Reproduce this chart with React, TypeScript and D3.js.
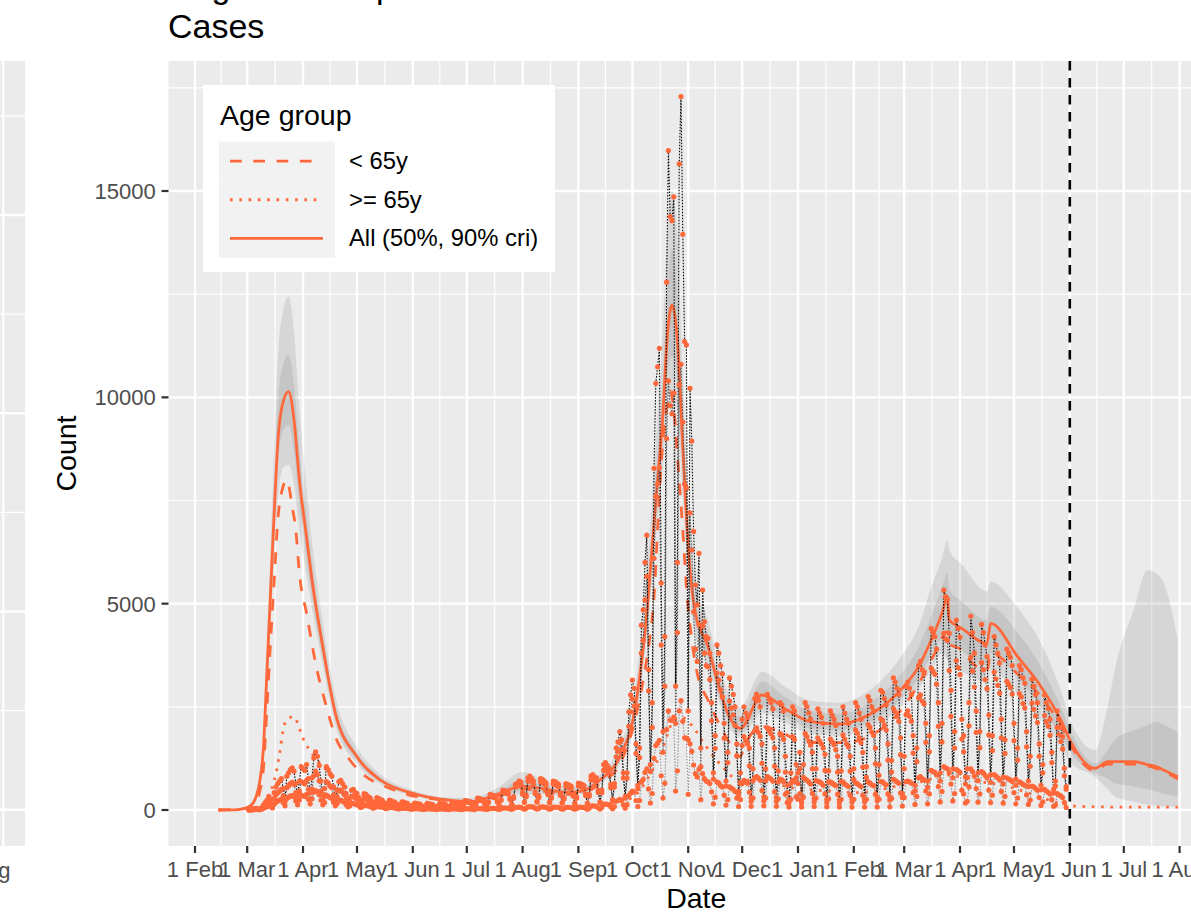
import React from "react";
import * as d3 from "d3";

const FONT = "'Liberation Sans', Arial, Helvetica, sans-serif";
const ORANGE = "#FF683A";

// ---------- model fit: All ages (median and credible intervals) ----------
const allDates = [
  "2020-02-14","2020-02-25","2020-03-01","2020-03-04","2020-03-06","2020-03-08","2020-03-10","2020-03-12","2020-03-14",
  "2020-03-16","2020-03-18","2020-03-21","2020-03-24","2020-03-27","2020-03-30","2020-04-03","2020-04-06",
  "2020-04-12","2020-04-19","2020-05-01","2020-05-14","2020-06-01","2020-06-20","2020-07-03","2020-07-18",
  "2020-08-01","2020-08-12","2020-08-25","2020-09-03","2020-09-13","2020-09-24","2020-10-02","2020-10-06",
  "2020-10-09","2020-10-12","2020-10-15","2020-10-18","2020-10-20","2020-10-23","2020-10-26","2020-10-29",
  "2020-11-01","2020-11-05","2020-11-12","2020-11-17","2020-11-23","2020-11-30","2020-12-12","2020-12-26",
  "2021-01-08","2021-01-25","2021-02-03","2021-02-14","2021-02-27","2021-03-09","2021-03-16","2021-03-22",
  "2021-03-25","2021-03-26","2021-04-02","2021-04-16","2021-04-18","2021-05-03","2021-05-16","2021-05-27",
  "2021-06-02","2021-06-15","2021-06-22","2021-06-26","2021-07-07","2021-07-14","2021-07-19","2021-07-24",
  "2021-07-31",
];
const allMedian = [
  0,10,60,150,330,700,1500,3400,5300,7200,8900,9900,10137,9450,8000,6600,5573,
  3957,2343,1292,727,404,242,201,380,580,520,430,460,727,1292,2343,3555,
  4766,6381,7997,9612,11227,12237,11389,8804,6381,4766,3957,3150,2343,1980,2787,2423,
  2140,2084,2181,2423,2908,3473,4120,4766,5169,4604,4402,4039,4524,3715,2988,2181,
  1616,1010,1171,1171,1171,1100,1050,950,807,
];
const allLo90 = [
  0,5,35,100,230,520,1150,2800,4500,6100,7500,8300,8360,7900,6800,5700,4900,
  3500,2050,1120,630,350,195,150,290,380,380,340,380,620,1120,2050,3100,
  4200,5600,7000,8300,9600,10000,9700,7600,5600,4200,3500,2800,2050,1780,2343,2100,
  1850,1800,1880,2080,2480,2950,3400,3800,3635,3500,3350,3100,3392,2800,2181,1550,
  1131,807,500,323,200,121,100,90,80,
];
const allLo50 = [
  0,8,48,125,280,610,1320,3100,4900,6700,8300,9200,9330,8700,7400,6100,5200,
  3700,2200,1200,680,375,218,175,335,460,450,385,420,670,1200,2200,3350,
  4500,6000,7500,9000,10400,11000,10500,8200,6000,4500,3700,2950,2200,1890,2503,2250,
  1980,1930,2010,2230,2680,3200,3750,4200,4362,4100,3850,3500,3797,3200,2503,1800,
  1373,888,760,646,565,500,444,380,323,
];
const allHi50 = [
  0,14,75,185,390,800,1700,3700,5800,7900,9800,10800,11026,10300,8700,7100,5950,
  4200,2500,1380,780,435,270,235,440,720,620,490,510,790,1400,2550,3850,
  5150,6900,8700,10500,12300,13600,12500,9600,6900,5150,4250,3400,2600,2260,3110,2700,
  2400,2330,2450,2720,3280,3950,4700,5400,5735,5350,5050,4600,4927,4300,3473,2500,
  1858,1131,1450,1696,1939,2050,2140,2050,1898,
];
const allHi90 = [
  0,20,95,240,450,900,1900,4100,6400,8800,10900,12100,12440,11600,9700,7800,6500,
  4550,2750,1520,860,480,300,290,540,920,740,570,580,870,1550,2800,4250,
  5700,7600,9600,11700,13700,15000,13900,10600,7600,5600,4600,3700,2850,2500,3352,2950,
  2650,2600,2720,3050,3700,4450,5400,6100,6543,6300,5950,5300,5533,4900,4039,2900,
  2100,1454,2500,3392,4927,5816,5735,5411,4120,
];

// ---------- model fit: < 65y (median) ----------
const under65Dates = [
  "2020-02-14","2020-03-01","2020-03-05","2020-03-08","2020-03-10","2020-03-12","2020-03-14","2020-03-16",
  "2020-03-18","2020-03-20","2020-03-23","2020-03-26","2020-03-28","2020-03-30","2020-04-03","2020-04-08",
  "2020-04-14","2020-04-19","2020-04-27","2020-05-06","2020-05-17","2020-05-30","2020-06-10","2020-06-20",
  "2020-07-03","2020-07-18","2020-08-01","2020-08-12","2020-08-25","2020-09-03","2020-09-13","2020-09-24",
  "2020-10-02","2020-10-07","2020-10-10","2020-10-13","2020-10-15","2020-10-17","2020-10-20","2020-10-22",
  "2020-10-24","2020-10-27","2020-10-29","2020-10-31","2020-11-03","2020-11-06","2020-11-12","2020-11-18",
  "2020-11-23","2020-11-30","2020-12-02","2020-12-12","2020-12-22","2021-01-01","2021-01-14","2021-01-27",
  "2021-02-09","2021-02-24","2021-03-07","2021-03-18","2021-03-25","2021-03-26","2021-04-02","2021-04-08",
  "2021-04-16","2021-04-18","2021-05-03","2021-05-16","2021-05-27","2021-06-02","2021-06-15","2021-06-22",
  "2021-07-07","2021-07-20","2021-07-31",
];
const under65Median = [
  0,40,130,450,1000,2500,4100,5573,7027,7674,7997,7350,6785,5735,4766,3555,
  2503,1776,1212,807,565,363,283,225,170,330,510,460,380,405,640,1120,
  2100,3150,3957,5169,6785,8400,9700,10150,9700,7997,6785,5411,4120,3313,2665,2100,
  1696,1292,1534,2019,1898,1696,1631,1631,1776,2261,2908,3797,4322,4039,3877,3555,
  3380,3800,3300,2750,2050,1530,950,1110,1110,990,750,
];

// ---------- model fit: >= 65y (median) ----------
const over65Dates = [
  "2020-02-14","2020-03-01","2020-03-08","2020-03-13","2020-03-15","2020-03-17","2020-03-19","2020-03-21",
  "2020-03-23","2020-03-27","2020-03-30","2020-04-01","2020-04-04","2020-04-08","2020-04-14","2020-04-19",
  "2020-04-28","2020-05-10","2020-05-23","2020-06-10","2020-07-03","2020-08-01","2020-09-01","2020-09-20",
  "2020-10-01","2020-10-10","2020-10-17","2020-10-23","2020-10-28","2020-11-03","2020-11-10","2020-11-20",
  "2020-11-30","2020-12-12","2020-12-26","2021-01-15","2021-02-05","2021-02-25","2021-03-12","2021-03-25",
  "2021-04-10","2021-04-25","2021-05-10","2021-05-25","2021-06-05","2021-07-01","2021-07-31",
];
const over65Median = [
  0,15,60,242,565,888,1373,1939,2197,2261,1979,1737,1494,1252,969,727,
  485,283,162,90,35,70,60,170,300,800,1400,2100,2250,2050,1600,1050,
  700,780,560,470,420,580,700,850,700,600,400,180,90,70,70,
];

// ---------- observed daily counts (from Mon 2 Mar 2020, one row per week) ----------
const obsStart = "2020-03-02";
const obsAll = [
  5,10,15,30,40,30,20, 60,120,180,240,330,260,140, 420,560,640,700,760,520,300,
  820,900,980,1020,940,640,380, 700,1050,1000,960,1100,760,420, 780,1260,1410,1300,1080,700,380,
  520,1050,980,880,820,560,300, 480,690,720,640,560,400,240, 300,480,500,430,400,300,180,
  240,400,380,330,300,220,140, 200,300,280,250,240,180,110, 160,240,230,200,190,140,90,
  130,200,190,170,160,110,70, 110,170,160,150,140,100,60, 100,160,150,140,130,90,60,
  100,160,160,150,140,90,60, 110,190,180,170,160,100,70, 130,230,220,210,200,130,80,
  160,290,280,260,250,160,90, 200,380,360,340,330,210,110, 260,480,470,450,430,280,140,
  320,620,640,700,680,420,200, 360,780,820,760,700,440,210, 340,760,740,700,660,420,190,
  320,700,690,660,620,400,180, 300,640,620,600,580,380,170, 320,650,640,620,600,390,170,
  380,820,860,800,780,480,200, 480,1100,1150,1080,1020,620,250, 640,1500,1650,1900,1700,900,330,
  900,2380,2790,3150,2950,1600,600, 1500,4480,4850,6000,6660,3400,1100,
  2600,8280,10340,10740,11190,5500,1900, 4200,12790,15980,14380,14280,14860,3000,
  6000,15660,17290,13950,11350,11270,2400, 10220,8940,6750,5450,4970,6220,1500,
  5330,4560,4200,4160,3800,2600,900, 1800,4000,3800,3500,3300,2100,700, 1400,3200,3000,2800,2500,1600,450,
  900,2200,2500,2350,2250,1500,300, 1000,2700,2800,2650,2500,1600,320, 1000,2800,2700,2600,2450,1500,300,
  950,2600,2550,2400,1300,600,250, 900,2500,2400,1100,900,1400,250, 1100,2600,2500,2350,2200,1400,280,
  1000,2450,2350,2250,2100,1350,260, 950,2400,2300,2200,2050,1300,250, 950,2500,2350,2200,2100,1300,260,
  1000,2600,2500,2350,2200,1400,270, 1050,2750,2650,2500,2400,1500,300, 1100,2900,2850,2700,2550,1600,320,
  1200,3200,3100,2950,2800,1750,400, 1300,3000,3100,2950,2800,1800,600, 1500,3500,3600,3400,3300,2100,700,
  1800,4400,4300,4200,3900,2600,900, 2100,5330,5170,5110,4280,2900,1000, 1900,4600,4400,4190,2200,1800,800,
  1000,2600,4700,4300,3800,2400,900, 1900,4500,4300,4000,3720,2300,850, 1800,4200,4000,3800,3560,2200,800,
  1700,3900,3800,3700,3500,2100,750, 1500,3500,3400,3200,3070,1900,700, 1300,3170,3000,2800,2600,1600,600,
  1100,2790,2600,2460,2200,1400,500, 700,2400,2200,2000,1780,1010,565,
];
const obsUnder65 = [
  3,7,10,20,28,20,14, 40,80,120,160,220,170,90, 280,370,420,460,500,340,200,
  540,590,640,670,620,420,250, 460,690,660,630,720,500,270, 510,830,940,860,710,460,250,
  340,690,650,580,540,370,200, 320,460,480,430,370,270,160, 200,320,340,290,270,200,120,
  160,280,270,230,210,150,95, 140,210,200,175,170,125,75, 115,175,170,145,140,100,65,
  95,150,145,130,120,80,50, 85,135,130,120,112,80,48, 80,130,122,115,106,72,50,
  82,132,134,125,118,74,50, 92,160,152,144,136,84,60, 110,198,190,182,174,112,70,
  138,254,246,228,220,140,78, 175,338,320,302,294,186,96, 230,430,422,404,386,252,124,
  284,558,576,632,614,380,180, 320,702,740,686,630,396,188, 302,684,666,630,594,378,170,
  284,628,620,594,558,360,161, 266,574,556,538,520,342,152, 284,580,572,554,536,350,152,
  335,725,760,708,690,425,178, 420,960,1005,945,890,540,220, 555,1290,1420,1640,1465,775,285,
  770,2030,2380,2690,2520,1370,515, 1270,3800,4110,5090,5660,2890,930,
  2000,6100,7600,7900,8300,4000,1400, 3000,9000,10400,9800,9600,10100,2100,
  4300,10300,10800,9400,7900,7800,1700, 7200,6300,4800,3900,3600,4500,1050,
  4450,3800,3500,3470,3160,2160,750, 1490,3320,3150,2910,2740,1740,580, 1150,2640,2470,2300,2050,1310,365,
  650,1560,1780,1670,1600,1070,210, 710,1920,1990,1880,1780,1130,220, 710,1990,1920,1850,1750,1060,210,
  680,1850,1820,1710,920,420,175, 640,1780,1710,780,640,1000,175, 790,1850,1780,1670,1570,1000,195,
  710,1750,1670,1600,1500,960,180, 680,1720,1650,1580,1460,920,178, 690,1820,1720,1600,1530,940,188,
  740,1940,1860,1750,1630,1040,200, 790,2070,2000,1890,1810,1120,225, 840,2210,2170,2060,1940,1210,242,
  920,2460,2380,2270,2150,1340,305, 1000,2310,2400,2270,2150,1380,465, 1170,2720,2790,2640,2570,1640,550,
  1410,3440,3370,3290,3050,2030,705, 1650,4280,4150,4110,3380,2270,780, 1500,3620,3450,3280,1720,1410,630,
  790,2040,3700,3370,2980,1880,710, 1510,3570,3400,3160,2940,1820,670, 1440,3340,3180,3020,2830,1750,635,
  1370,3120,3050,2970,2810,1680,600, 1210,2820,2740,2580,2470,1530,565, 1060,2590,2440,2280,2120,1300,490,
  900,2290,2140,2030,1810,1150,410, 580,2000,1830,1660,1480,830,505,
];
const obsOver65 = [
  2,3,5,10,12,10,6, 20,40,60,80,110,90,50, 140,190,220,240,260,180,100,
  280,310,340,350,320,220,130, 240,360,340,330,380,260,150, 270,430,470,440,370,240,130,
  180,360,330,300,280,190,100, 160,230,240,210,190,130,80, 100,160,160,140,130,100,60,
  80,120,110,100,90,70,45, 60,90,80,75,70,55,35, 45,65,60,55,50,40,25,
  35,50,45,40,40,30,20, 25,35,30,30,28,20,12, 20,30,28,25,24,18,10,
  18,28,26,25,22,16,10, 18,30,28,26,24,16,10, 20,32,30,28,26,18,10,
  22,36,34,32,30,20,12, 25,42,40,38,36,24,14, 30,50,48,46,44,28,16,
  36,62,64,68,66,40,20, 40,78,80,74,70,44,22, 38,76,74,70,66,42,20,
  36,72,70,66,62,40,19, 34,66,64,62,60,38,18, 36,70,68,66,64,40,18,
  45,95,100,92,90,55,22, 60,140,145,135,130,80,30, 85,210,230,260,235,125,45,
  130,350,410,460,430,230,85, 230,680,740,910,1000,510,170,
  400,1250,1560,1620,1690,830,290, 650,1950,2400,2180,2170,2250,460,
  950,2400,2650,2150,1750,1740,380, 1600,1420,1090,880,800,990,250,
  880,760,700,690,640,440,150, 310,680,650,590,560,360,120, 250,560,530,500,450,290,85,
  250,640,720,680,650,430,90, 290,780,810,770,720,470,100, 290,810,780,750,700,440,90,
  270,750,730,690,380,180,75, 260,720,690,320,260,400,75, 310,750,720,680,630,400,85,
  290,700,680,650,600,390,80, 270,680,650,620,590,380,72, 260,680,630,600,570,360,72,
  260,660,640,600,570,360,70, 260,680,650,610,590,380,75, 260,690,680,640,610,390,78,
  280,740,720,680,650,410,95, 300,690,700,680,650,420,135, 330,780,810,760,730,460,150,
  390,960,930,910,850,570,195, 450,1050,1020,1000,900,630,220, 400,980,950,910,480,390,170,
  210,560,1000,930,820,520,190, 390,930,900,840,780,480,180, 360,860,820,780,730,450,165,
  330,780,750,730,690,420,150, 290,680,660,620,600,370,135, 240,580,560,520,480,300,110,
  200,500,460,430,390,250,90, 120,400,370,340,300,180,60,
];

// ---------- axes / annotations ----------
const xTickDates = [
  "2020-02-01","2020-03-01","2020-04-01","2020-05-01","2020-06-01","2020-07-01","2020-08-01",
  "2020-09-01","2020-10-01","2020-11-01","2020-12-01","2021-01-01","2021-02-01","2021-03-01",
  "2021-04-01","2021-05-01","2021-06-01","2021-07-01","2021-08-01","2021-09-01",
];
const yTicks = [0, 5000, 10000, 15000];
const yMinorTicks = [2500, 7500, 12500, 17500];
const forecastStart = "2021-06-01";
const legendTitle = "Age group";
const legendLabels = ["< 65y", ">= 65y", "All (50%, 90% cri)"];
const legendDash = ["11.7 11.6", "2.6 6.7", null];

const parse = (s: string) => d3.utcParse("%Y-%m-%d")(s) as Date;

export default function App() {
  const W = 1191, H = 915;
  const P = { l: 168.5, r: 1224, t: 61, b: 846 };

  const x = d3.scaleUtc()
    .domain([parse("2020-02-01"), parse("2021-06-01")])
    .range([195, 1069.8]);
  const y = d3.scaleLinear().domain([0, 15000]).range([810, 191]);

  const allRows = allDates.map((d, i) => ({
    date: parse(d), med: allMedian[i], lo90: allLo90[i], lo50: allLo50[i], hi50: allHi50[i], hi90: allHi90[i],
  }));
  const u65 = under65Dates.map((d, i) => ({ date: parse(d), v: under65Median[i] }));
  const o65 = over65Dates.map((d, i) => ({ date: parse(d), v: over65Median[i] }));

  const start = parse(obsStart);
  const obsDates = obsAll.map((_, i) => d3.utcDay.offset(start, i));
  const mkObs = (arr: number[]) => arr.map((v, i) => ({ date: obsDates[i], v }));
  const obsSeries = [
    { data: mkObs(obsOver65), stroke: "#8c8c8c" },
    { data: mkObs(obsUnder65), stroke: "#555555" },
    { data: mkObs(obsAll), stroke: "#000000" },
  ];

  const curve = d3.curveMonotoneX;
  const area90 = d3.area<any>().x(d => x(d.date)).y0(d => y(d.lo90)).y1(d => y(d.hi90)).curve(curve);
  const area50 = d3.area<any>().x(d => x(d.date)).y0(d => y(d.lo50)).y1(d => y(d.hi50)).curve(curve);
  const medLine = d3.line<any>().x(d => x(d.date)).y(d => y(d.med)).curve(curve);
  const vLine = d3.line<any>().x(d => x(d.date)).y(d => y(d.v)).curve(curve);
  const obsLine = d3.line<any>().x(d => x(d.date)).y(d => y(d.v));

  const ticks = xTickDates.map(parse);
  const minorX: Date[] = [];
  for (let i = 0; i < ticks.length - 1; i++) {
    minorX.push(new Date((ticks[i].getTime() + ticks[i + 1].getTime()) / 2));
  }
  const fmt = d3.utcFormat("%-d %b");

  // left (neighbouring) panel remnant grid
  const leftY = d3.scaleLinear().domain([0, 3]).range([809.7, 215]);
  const leftMajor = [0, 1, 2, 3];
  const leftMinor = [0.5, 1.5, 2.5, 3.5];

  const keyTop = 141.7, keyH = 38.7;

  return (
    <svg width={W} height={H} style={{ position: "absolute", left: 0, top: 0, display: "block", background: "#fff" }}
      fontFamily={FONT}>
      <defs>
        <clipPath id="panel"><rect x={P.l} y={P.t} width={P.r - P.l} height={P.b - P.t} /></clipPath>
        <clipPath id="leftpanel"><rect x={-20} y={P.t} width={45} height={P.b - P.t} /></clipPath>
      </defs>

      {/* neighbouring panel (cropped) */}
      <g clipPath="url(#leftpanel)">
        <rect x={-20} y={P.t} width={45} height={P.b - P.t} fill="#EBEBEB" />
        {leftMinor.map(v => <line key={"lm" + v} x1={-20} x2={25} y1={leftY(v)} y2={leftY(v)} stroke="#fff" strokeWidth={1.2} />)}
        {leftMajor.map(v => <line key={"lM" + v} x1={-20} x2={25} y1={leftY(v)} y2={leftY(v)} stroke="#fff" strokeWidth={2.4} />)}
        <line x1={3.3} x2={3.3} y1={P.t} y2={P.b} stroke="#fff" strokeWidth={2.2} />
      </g>
      <text x={10.5} y={878} fontSize={22} fill="#4D4D4D" textAnchor="end">1 Aug</text>

      {/* titles */}
      <text x={168} y={-2} fontSize={34} fill="#000">Regional sample</text>
      <text x={168} y={38} fontSize={34} fill="#000">Cases</text>

      {/* panel */}
      <rect x={P.l} y={P.t} width={P.r - P.l} height={P.b - P.t} fill="#EBEBEB" />
      <g clipPath="url(#panel)">
        {yMinorTicks.map(v => <line key={"ym" + v} x1={P.l} x2={P.r} y1={y(v)} y2={y(v)} stroke="#fff" strokeWidth={1.2} />)}
        {minorX.map((d, i) => <line key={"xm" + i} x1={x(d)} x2={x(d)} y1={P.t} y2={P.b} stroke="#fff" strokeWidth={1.2} />)}
        {yTicks.map(v => <line key={"yM" + v} x1={P.l} x2={P.r} y1={y(v)} y2={y(v)} stroke="#fff" strokeWidth={2.4} />)}
        {ticks.map((d, i) => <line key={"xM" + i} x1={x(d)} x2={x(d)} y1={P.t} y2={P.b} stroke="#fff" strokeWidth={2.4} />)}

        {/* credible intervals */}
        <path d={area90(allRows) || ""} fill="#7F7F7F" fillOpacity={0.19} />
        <path d={area50(allRows) || ""} fill="#7F7F7F" fillOpacity={0.19} />

        {/* model medians */}
        <path d={vLine(u65) || ""} fill="none" stroke={ORANGE} strokeWidth={2.8} strokeDasharray="11.7 11.6" />
        <path d={vLine(o65) || ""} fill="none" stroke={ORANGE} strokeWidth={2.8} strokeDasharray="2.6 6.7" />
        <path d={medLine(allRows) || ""} fill="none" stroke={ORANGE} strokeWidth={2.8} />

        {/* observed */}
        {obsSeries.map((s, i) => (
          <path key={"ol" + i} d={obsLine(s.data) || ""} fill="none" stroke={s.stroke} strokeWidth={1.1} strokeDasharray="1.5 1.5" />
        ))}
        {obsSeries.map((s, i) => (
          <g key={"op" + i}>
            {s.data.map((d, j) => <circle key={j} cx={x(d.date)} cy={y(d.v)} r={2.6} fill={ORANGE} />)}
          </g>
        ))}

        {/* forecast start */}
        <line x1={x(parse(forecastStart))} x2={x(parse(forecastStart))} y1={P.t} y2={P.b}
          stroke="#000" strokeWidth={2.6} strokeDasharray="9.5 7.5" />
      </g>

      {/* y axis */}
      {yTicks.map(v => (
        <g key={"yt" + v}>
          <line x1={P.l - 7} x2={P.l} y1={y(v)} y2={y(v)} stroke="#333" strokeWidth={2.2} />
          <text x={P.l - 12.7} y={y(v) + 8} fontSize={22} fill="#4D4D4D" textAnchor="end">{v}</text>
        </g>
      ))}
      <text transform={`translate(76,${(P.t + P.b) / 2}) rotate(-90)`} fontSize={28.5} fill="#000" textAnchor="middle">Count</text>

      {/* x axis */}
      {ticks.filter(d => x(d) <= P.r).map((d, i) => (
        <g key={"xt" + i}>
          <line x1={x(d)} x2={x(d)} y1={P.b} y2={P.b + 7} stroke="#333" strokeWidth={2.2} />
          <text x={x(d)} y={877} fontSize={22} fill="#4D4D4D" textAnchor="middle">{fmt(d)}</text>
        </g>
      ))}
      <text x={(P.l + P.r) / 2} y={908} fontSize={28.5} fill="#000" textAnchor="middle">Date</text>

      {/* legend */}
      <rect x={203} y={85} width={352} height={187} fill="#fff" />
      <text x={220} y={125} fontSize={28.5} fill="#000">{legendTitle}</text>
      {legendLabels.map((lab, i) => {
        const cy = keyTop + keyH * i + keyH / 2;
        return (
          <g key={"lg" + i}>
            <rect x={219} y={keyTop + keyH * i} width={116} height={keyH} fill="#F2F2F2" />
            <line x1={230} x2={323} y1={cy} y2={cy} stroke={ORANGE} strokeWidth={2.8}
              strokeDasharray={legendDash[i] || undefined} />
            <text x={349} y={cy + 8} fontSize={23.8} fill="#000">{lab}</text>
          </g>
        );
      })}
    </svg>
  );
}
